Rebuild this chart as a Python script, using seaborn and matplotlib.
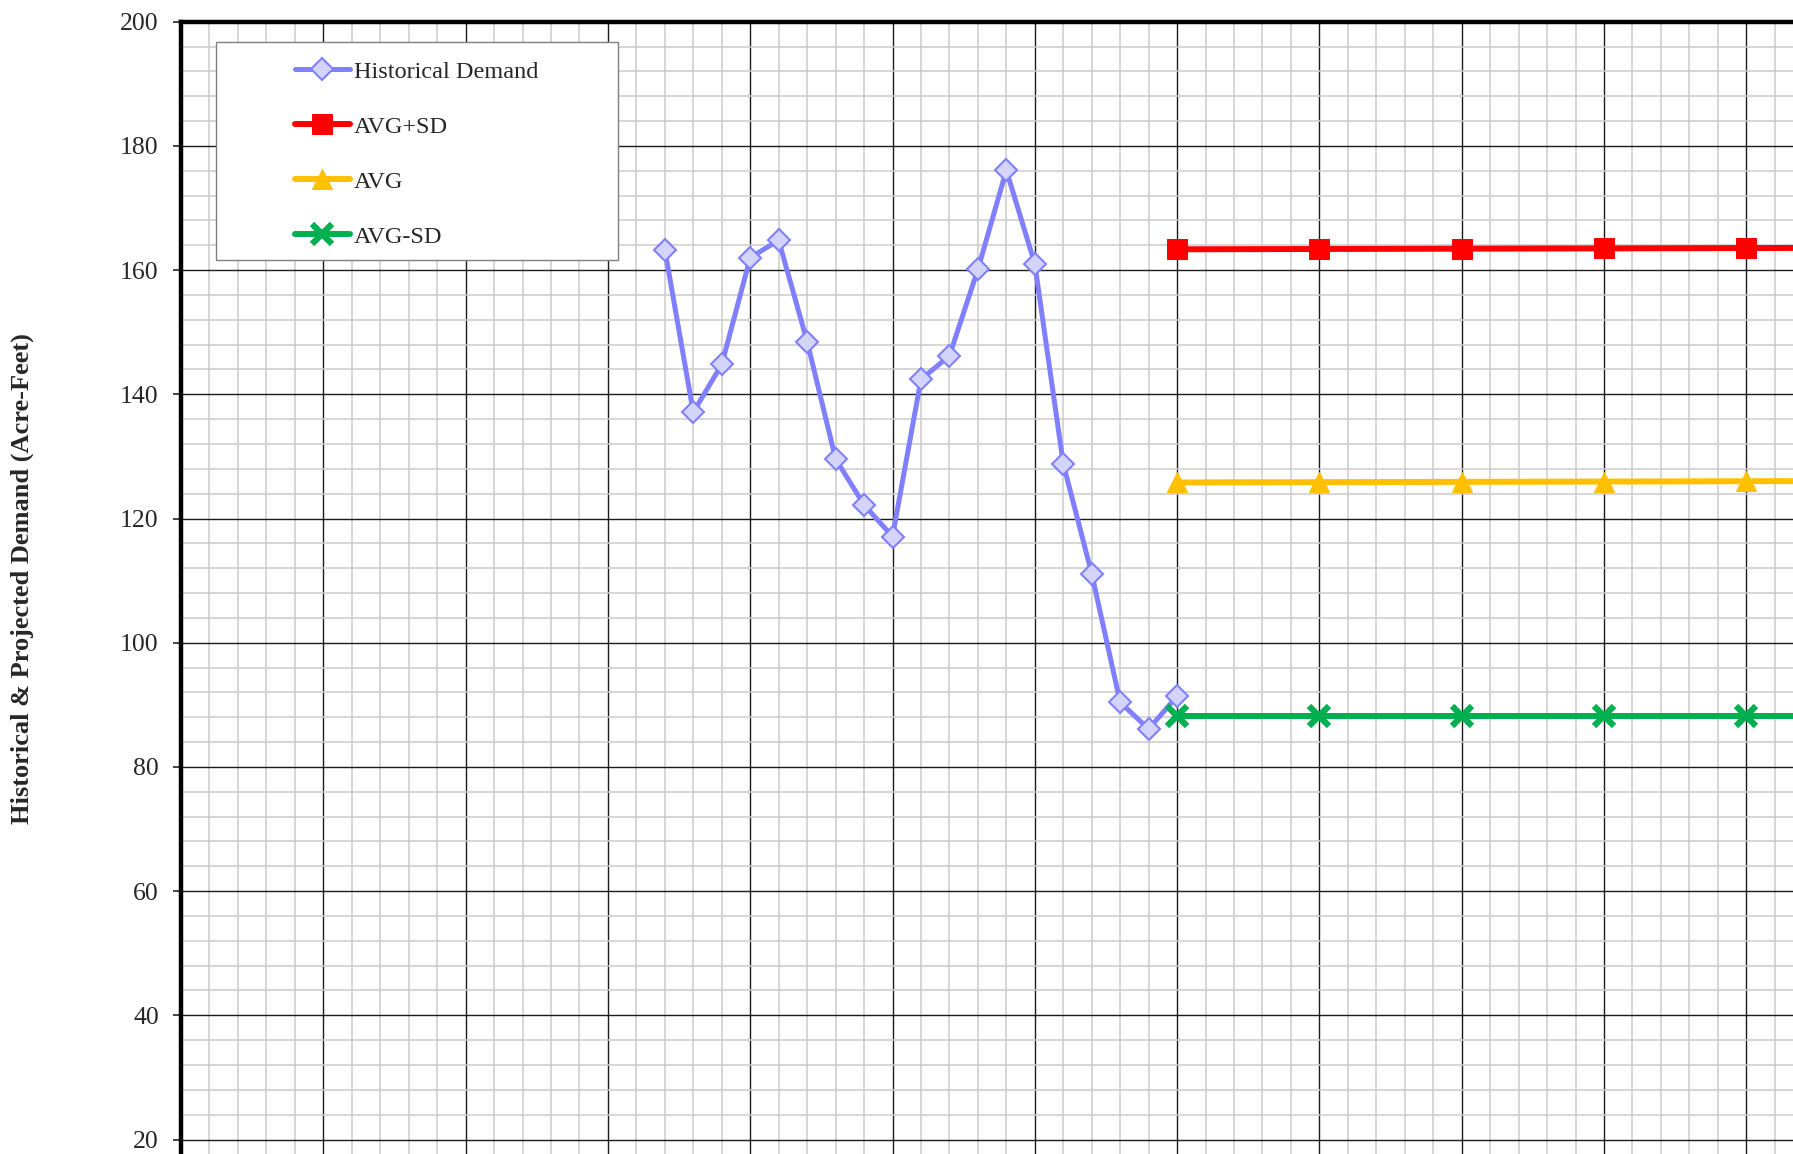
import matplotlib
matplotlib.use('Agg')
import matplotlib.pyplot as plt
import seaborn as sns
import pandas as pd
from matplotlib.patches import Rectangle
from matplotlib.ticker import MultipleLocator

# Historical demand (one point per year)
hist_years = list(range(1992, 2011))
hist_demand = [163.3, 137.1, 144.8, 162.0, 164.8, 148.5, 129.6, 122.2, 117.1, 142.4,
               146.2, 160.1, 176.1, 161.0, 128.8, 111.1, 90.4, 86.1, 91.4]

# Projections every 5 years
proj_years = [2010, 2015, 2020, 2025, 2030, 2035]
avg_plus_sd = [163.35, 163.4, 163.45, 163.5, 163.55, 163.6]
avg = [125.8, 125.85, 125.9, 125.95, 126.0, 126.05]
avg_minus_sd = [88.2, 88.2, 88.2, 88.2, 88.2, 88.2]

labels = ['Historical Demand', 'AVG+SD', 'AVG', 'AVG-SD']

sns.set_style('white')
plt.rcParams['font.family'] = ['Liberation Serif', 'DejaVu Serif']

W, H = 1793, 1154
fig = plt.figure(figsize=(W / 100, H / 100), dpi=100)

# axes is larger than the figure: the original chart is cropped on the right and bottom
left_px, top_px = 181, 21.7
px_per_year = 28.46
px_per_unit = 6.21
x0, x1 = 1975, 2040
y0, y1 = 0, 200
ax_w = (x1 - x0) * px_per_year
ax_h = (y1 - y0) * px_per_unit
ax = fig.add_axes([left_px / W, 1 - (top_px + ax_h) / H, ax_w / W, ax_h / H])

df_hist = pd.DataFrame({'Year': hist_years, 'Demand': hist_demand})
df_proj = pd.DataFrame({'Year': proj_years, 'plus': avg_plus_sd, 'avg': avg, 'minus': avg_minus_sd})

sns.lineplot(data=df_hist, x='Year', y='Demand', ax=ax, color='#8080ff', lw=3.6,
             marker='D', markersize=11, markerfacecolor='#d4d4fb', markeredgecolor='#8080ff',
             markeredgewidth=1.5, label=labels[0], zorder=5)
sns.lineplot(data=df_proj, x='Year', y='plus', ax=ax, color='#ff0000', lw=4.3,
             marker='s', markersize=14, markeredgecolor='#ff0000', label=labels[1], zorder=5)
sns.lineplot(data=df_proj, x='Year', y='avg', ax=ax, color='#ffc000', lw=4.3,
             marker='^', markersize=15, markeredgecolor='#ffc000', label=labels[2], zorder=5)
sns.lineplot(data=df_proj, x='Year', y='minus', ax=ax, color='#00b050', lw=4.3,
             marker='x', markersize=14, markeredgewidth=4.5, markeredgecolor='#00b050',
             label=labels[3], zorder=5)

ax.set_xlim(x0, x1)
ax.set_ylim(y0, y1)

# grid
ax.xaxis.set_major_locator(MultipleLocator(5))
ax.xaxis.set_minor_locator(MultipleLocator(1))
ax.yaxis.set_major_locator(MultipleLocator(20))
ax.yaxis.set_minor_locator(MultipleLocator(4))
ax.grid(True, which='minor', color='#cccccc', lw=1.1, zorder=0)
ax.grid(True, which='major', color='#1a1a1a', lw=1.0, zorder=1)
ax.set_axisbelow(True)

ax.tick_params(axis='x', which='both', bottom=False, labelbottom=False)
ax.tick_params(axis='y', which='major', left=True, length=6, width=1.2, pad=10, labelsize=18.5)
ax.tick_params(axis='y', which='minor', left=False)

for s in ['left', 'top']:
    ax.spines[s].set_linewidth(3.2)
    ax.spines[s].set_color('black')
for s in ['right', 'bottom']:
    ax.spines[s].set_visible(False)

ax.set_xlabel('')
ax.set_ylabel('Historical & Projected Demand (Acre-Feet)', fontsize=19, fontweight='bold')
ax.yaxis.set_label_coords(-(left_px - 34) / ax_w, (top_px + ax_h - 579) / ax_h)

# frame of the legend box (wider than its contents)
frame = Rectangle((216 / W, 1 - 259.7 / H), (618 - 216) / W, (259.7 - 41.7) / H,
                  transform=fig.transFigure, facecolor='white', edgecolor='#808080',
                  lw=1.0, zorder=8, clip_on=False)
ax.add_patch(frame)

leg = ax.legend(loc='upper left', bbox_to_anchor=(295 / W, 1 - 60.5 / H), bbox_transform=fig.transFigure,
                frameon=False, fontsize=17.5, borderpad=0, borderaxespad=0, handlelength=2.26,
                handletextpad=0.15, labelspacing=1.36, numpoints=1)
leg.set_zorder(10)

fig.savefig('out.png', dpi=100)
